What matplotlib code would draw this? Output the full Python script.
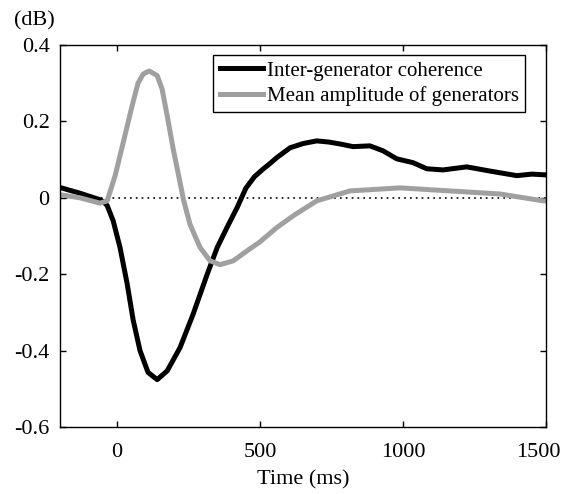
import matplotlib.pyplot as plt
from matplotlib.transforms import ScaledTranslation

# values
t_coh = [-200, -130, -60, -49, -35, -14, 10, 35, 56, 80, 108, 140, 175, 220, 266,
         315, 350, 384, 420, 450, 480, 510, 535, 558, 605, 650, 698, 740, 779, 825,
         884, 930, 978, 1035, 1083, 1140, 1223, 1304, 1398, 1450, 1500]
coherence = [0.027, 0.012, -0.005, -0.01, -0.02, -0.06, -0.13, -0.225, -0.32, -0.4,
             -0.457, -0.476, -0.453, -0.392, -0.304, -0.2, -0.13, -0.078, -0.025, 0.025,
             0.055, 0.075, 0.09, 0.105, 0.131, 0.142, 0.149, 0.146, 0.141, 0.134,
             0.136, 0.123, 0.102, 0.092, 0.076, 0.073, 0.081, 0.07, 0.058, 0.062, 0.06]

t_amp = [-200, -130, -60, -35, -7, 21, 52, 73, 91, 112, 140, 157, 175, 196, 220,
         232, 255, 290, 325, 360, 406, 454, 500, 558, 620, 698, 814, 989, 1164, 1339,
         1490, 1500]
amplitude = [0.008, 0.0, -0.014, -0.008, 0.058, 0.144, 0.24, 0.3, 0.324, 0.332, 0.32,
             0.285, 0.215, 0.128, 0.04, -0.005, -0.07, -0.13, -0.165, -0.175, -0.165,
             -0.139, -0.115, -0.078, -0.045, -0.008, 0.018, 0.026, 0.018, 0.01,
             -0.008, -0.008]

plt.rcParams['font.family'] = ['Liberation Serif', 'DejaVu Serif']
plt.rcParams['font.size'] = 16

fig = plt.figure(figsize=(5.69, 4.94), dpi=100)
ax = fig.add_axes([0.1054, 0.1356, 0.8542, 0.7733])

ax.plot([-200, 1500], [0, 0], color='black', linestyle=(0, (1, 2.5)), linewidth=1.2)
ax.plot(t_coh, coherence, color='black', linewidth=3.6, label='Inter-generator coherence')
ax.plot(t_amp, amplitude, color='#a0a0a0', linewidth=3.6, label='Mean amplitude of generators')

ax.set_xlim(-200, 1500)
ax.set_ylim(-0.6, 0.4)
ax.set_xticks([0, 500, 1000, 1500])
ax.set_yticks([-0.6, -0.4, -0.2, 0, 0.2, 0.4])
ax.set_yticklabels(['-0.6', '-0.4', '-0.2', '0', '0.2', '0.4'])
ax.tick_params(direction='in', length=4, width=1, top=True, right=True)
ax.tick_params(axis='x', pad=11.5)
ax.tick_params(axis='y', pad=7.5)
for s in ax.spines.values():
    s.set_linewidth(1)

# last x label sits a bit left of its tick in the original
lbl = ax.get_xticklabels()[-1]
lbl.set_transform(lbl.get_transform() + ScaledTranslation(-8 / 100, 0, fig.dpi_scale_trans))

ax.set_xlabel('Time (ms)', labelpad=6)
fig.text(0.024, 0.958, '(dB)', fontsize=16, va='center', ha='left')

leg = ax.legend(loc='upper right', bbox_to_anchor=(0.957, 0.974), fancybox=False,
                framealpha=1, edgecolor='black', handlelength=2.07, handletextpad=0.2,
                borderpad=0.3, labelspacing=0.25, borderaxespad=0, fontsize=15)
leg.get_frame().set_linewidth(1)

fig.savefig('out.png', dpi=100)
